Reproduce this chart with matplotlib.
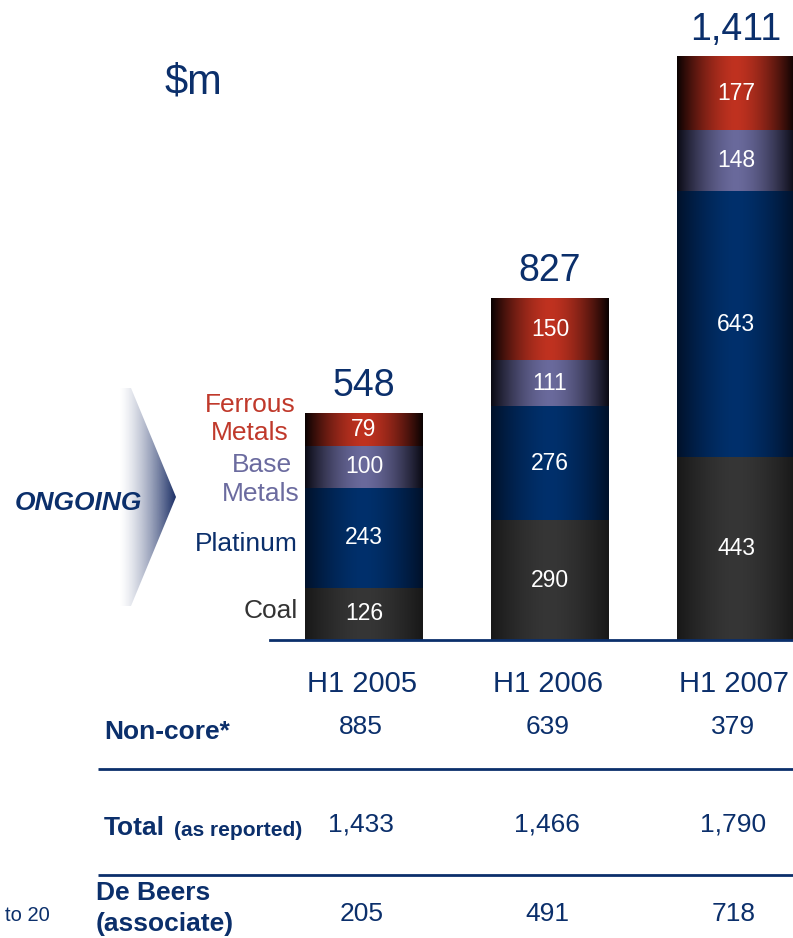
import numpy as np
import matplotlib
matplotlib.use("Agg")
import matplotlib.pyplot as plt
from matplotlib.transforms import blended_transform_factory
from matplotlib.patches import Polygon

plt.rcParams['font.family'] = ['Liberation Sans', 'DejaVu Sans']

# ---- data ----
periods = ["H1 2005", "H1 2006", "H1 2007"]
segments = ["Coal", "Platinum", "Base Metals", "Ferrous Metals"]
coal = [126, 290, 443]
platinum = [243, 276, 643]
base_metals = [100, 111, 148]
ferrous = [79, 150, 177]
totals = [548, 827, 1411]
non_core = [885, 639, 379]
total_reported = [1433, 1466, 1790]
de_beers = [205, 491, 718]

W, H = 793, 938
NAVY = "#0b2f6b"
fig = plt.figure(figsize=(W / 100, H / 100), dpi=100)
fig.patch.set_facecolor("white")

def fx(x):
    return x / W

def fy(y):
    return 1 - y / H

# bar axes: baseline at pixel y=640, left at pixel x=270
ax = fig.add_axes([fx(270), fy(640), (W - 270) / W, 640 / H])
ax.set_facecolor("none")
px_per_unit = 186.0
ax.set_xlim(-94 / px_per_unit, (W - 270 - 94) / px_per_unit)
ax.set_ylim(0, 640 / 0.413)
for s in ["top", "right", "left"]:
    ax.spines[s].set_visible(False)
ax.spines["bottom"].set_color(NAVY)
ax.spines["bottom"].set_linewidth(2)
ax.set_xticks([])
ax.set_yticks([])

bar_w = 118 / px_per_unit
series = [coal, platinum, base_metals, ferrous]
centers = ["#363636", "#00306c", "#6a6a9c", "#c03220"]
edges = ["#181818", "#00112a", "#0a0a14", "#0a0202"]

def hex2rgb(h):
    h = h.lstrip("#")
    return np.array([int(h[i:i + 2], 16) / 255 for i in (0, 2, 4)])

xs = np.linspace(0, 1, 200)
prof = 1 - np.abs(2 * xs - 1) ** 1.6
for i in range(len(periods)):
    bottom = 0
    for vals, cc, ec in zip(series, centers, edges):
        v = vals[i]
        c1, c0 = hex2rgb(cc), hex2rgb(ec)
        grad = c0[None, :] + (c1 - c0)[None, :] * prof[:, None]
        img = grad[None, :, :]
        ax.imshow(img, extent=[i - bar_w / 2, i + bar_w / 2, bottom, bottom + v],
                  aspect="auto", interpolation="bilinear", zorder=2)
        ax.text(i, bottom + v / 2, f"{v:,}", ha="center", va="center",
                color="white", fontsize=16.5, zorder=3)
        bottom += v
    ax.annotate(f"{totals[i]:,}", xy=(i, totals[i]), xytext=(0, 7),
                textcoords="offset points", ha="center", va="bottom",
                color=NAVY, fontsize=27, annotation_clip=False)

ax.set_xlim(-94 / px_per_unit, (W - 270 - 94) / px_per_unit)
ax.set_ylim(0, 640 / 0.413)

# $m
fig.text(fx(165), fy(82), "$m", color=NAVY, fontsize=30, ha="left", va="center")

# segment labels
fs = 19
fig.text(fx(296), fy(405), "Ferrous", color="#c0392b", fontsize=fs, ha="right", va="center")
fig.text(fx(289), fy(433), "Metals", color="#c0392b", fontsize=fs, ha="right", va="center")
fig.text(fx(292), fy(465), "Base", color="#6b6b9f", fontsize=fs, ha="right", va="center")
fig.text(fx(300), fy(494), "Metals", color="#6b6b9f", fontsize=fs, ha="right", va="center")
fig.text(fx(298), fy(544), "Platinum", color=NAVY, fontsize=fs, ha="right", va="center")
fig.text(fx(298), fy(611), "Coal", color="#333333", fontsize=fs, ha="right", va="center")

# ONGOING + arrow
fig.text(fx(15), fy(503), "ONGOING", color=NAVY, fontsize=19, fontweight="bold",
         fontstyle="italic", ha="left", va="center")
ax_ar = fig.add_axes([0, 0, 1, 1])
ax_ar.set_xlim(0, W)
ax_ar.set_ylim(H, 0)
ax_ar.axis("off")
ax_ar.patch.set_alpha(0)
poly = Polygon([(95, 388), (131, 388), (176, 497), (131, 606), (95, 606)],
               closed=True, facecolor="none", edgecolor="none")
ax_ar.add_patch(poly)
gx = np.linspace(0, 1, 200)
navy_rgb = hex2rgb("#1c2f66")
alpha = np.clip((gx - 0.3) / 0.7, 0, 1) ** 1.4
arr_img = np.zeros((1, 200, 4))
arr_img[0, :, :3] = navy_rgb
arr_img[0, :, 3] = alpha
im = ax_ar.imshow(arr_img, extent=[95, 176, 606, 388], aspect="auto",
                  interpolation="bilinear")
im.set_clip_path(poly)
ax_ar.set_xlim(0, W)
ax_ar.set_ylim(H, 0)

# table
tr = blended_transform_factory(ax.transData, fig.transFigure)
tfs = 19
for i, p in enumerate(periods):
    ax.text(i - 0.01, fy(684), p, transform=tr, ha="center", va="center",
            color=NAVY, fontsize=21)
    ax.text(i - 0.015, fy(727), f"{non_core[i]:,}", transform=tr, ha="center",
            va="center", color=NAVY, fontsize=tfs)
    ax.text(i - 0.015, fy(824), f"{total_reported[i]:,}", transform=tr, ha="center",
            va="center", color=NAVY, fontsize=tfs)
    ax.text(i - 0.015, fy(914), f"{de_beers[i]:,}", transform=tr, ha="center",
            va="center", color=NAVY, fontsize=tfs)

fig.text(fx(104), fy(732), "Non-core*", color=NAVY, fontsize=tfs, fontweight="bold",
         ha="left", va="center")
fig.text(fx(104), fy(828), "Total", color=NAVY, fontsize=tfs, fontweight="bold",
         ha="left", va="center")
fig.text(fx(174), fy(830), "(as reported)", color=NAVY, fontsize=15, fontweight="bold",
         ha="left", va="center")
fig.text(fx(96), fy(893), "De Beers", color=NAVY, fontsize=tfs, fontweight="bold",
         ha="left", va="center")
fig.text(fx(96), fy(924), "(associate)", color=NAVY, fontsize=tfs, fontweight="bold",
         ha="left", va="center")
fig.text(fx(5), fy(915), "to 20", color=NAVY, fontsize=14.5, ha="left", va="center")

for yy in (769, 875):
    ax_ar.plot([98, W], [yy, yy], color=NAVY, lw=2, solid_capstyle="butt")

fig.savefig("out.png", dpi=100, facecolor="white")
